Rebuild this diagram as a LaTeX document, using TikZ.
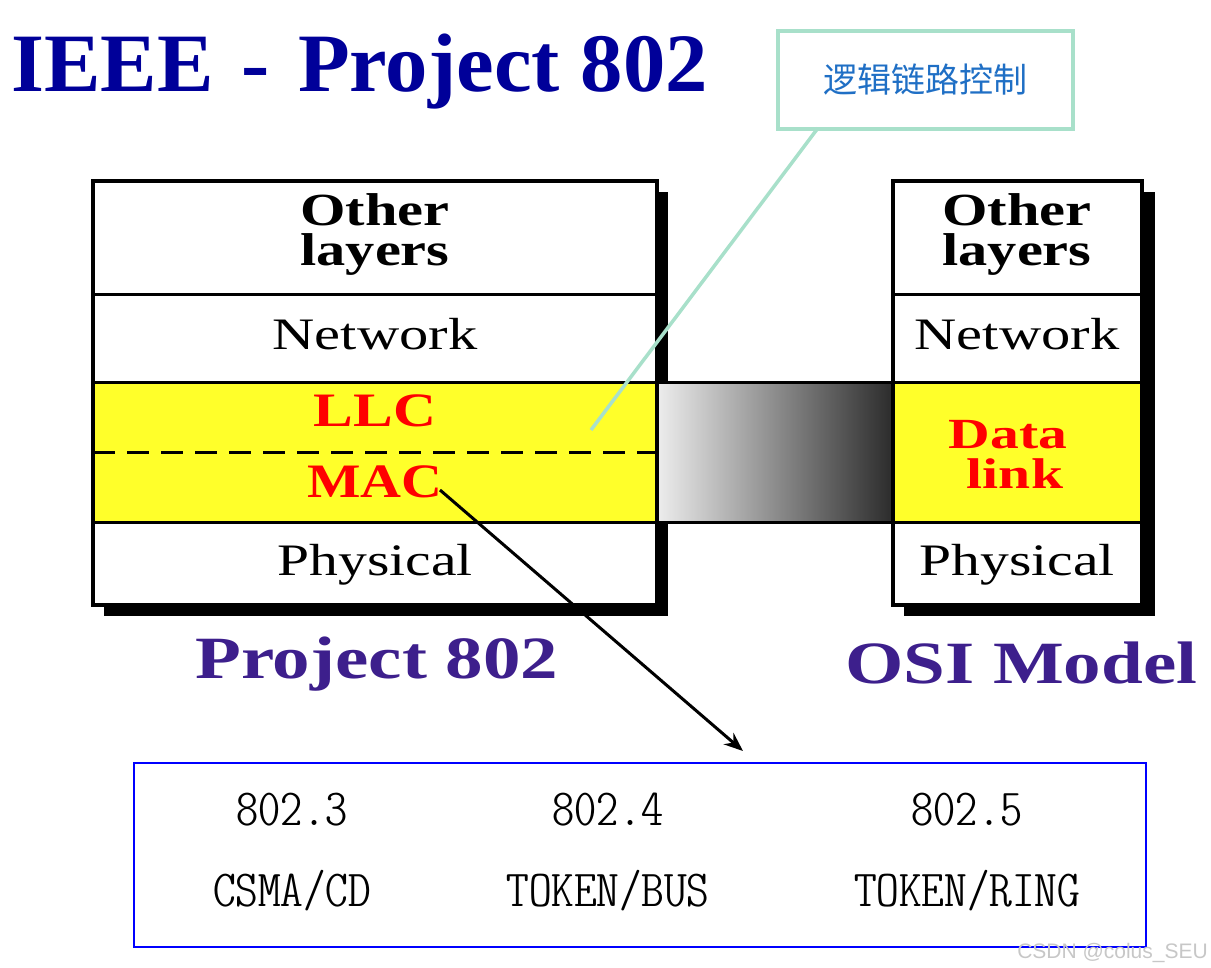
\documentclass[tikz,border=0pt]{standalone}
\usepackage{fontspec}
\usepackage{graphicx}
\setmainfont{Liberation Serif}
\newfontfamily\cjkfont{Noto Sans CJK SC}
\newfontfamily\wmfont{Liberation Sans}
\newfontfamily\narrowmono{lmmonoltcond10-regular.otf}
\usetikzlibrary{arrows.meta}
\definecolor{titleblue}{HTML}{000099}
\definecolor{labelpurple}{HTML}{3D1F8C}
\definecolor{layeryellow}{HTML}{FFFF2A}
\definecolor{calloutgreen}{HTML}{A8E0CA}
\definecolor{cjkblue}{HTML}{1F6FC5}
\definecolor{boxblue}{HTML}{0000FF}
\newcommand{\hstretch}[2][1.28]{\scalebox{#1}[1]{#2}}
\begin{document}
\begin{tikzpicture}[x=1pt,y=-1pt,
  cell/.style={draw=black, line width=3pt, inner sep=0pt, outer sep=0pt},
  yellowcell/.style={cell, fill=layeryellow},
  outerframe/.style={draw=black, line width=4.5pt},
  shadowbox/.style={fill=black},
  slidetext/.style={inner sep=0pt, anchor=base},
  upperline/.style={text height=32pt, text depth=0pt},
  lowerline/.style={text height=31pt, text depth=10pt},
  boldlayer/.style={slidetext, font=\bfseries\fontsize{46}{38}\selectfont},
  plainlayer/.style={slidetext, font=\fontsize{45}{45}\selectfont},
  redlayer/.style={slidetext, text=red, font=\bfseries\fontsize{48}{40}\selectfont},
  redsmall/.style={slidetext, text=red, font=\bfseries\fontsize{43}{40}\selectfont},
  biglabel/.style={inner sep=0pt, anchor=base west, text=labelpurple, font=\bfseries\fontsize{60}{60}\selectfont},
  stdtext/.style={inner sep=0pt, anchor=base, font=\narrowmono\fontsize{52}{52}\selectfont},
  callout/.style={draw=calloutgreen, line width=3.5pt, fill=white},
  calloutline/.style={draw=calloutgreen, line width=3.5pt},
  pointer/.style={draw=black, line width=3pt, -{Stealth[length=19pt, width=15pt]}}
]
\useasboundingbox (0,0) rectangle (1211,968);

% shadows
\fill[shadowbox] (104,192) rectangle (668,616);
\fill[shadowbox] (904,192) rectangle (1155,616);

% gradient bar between stacks
\node[cell, shade, left color=black!7, right color=black!83, minimum width=236pt, minimum height=139pt] (bar) at (775,452.5) {};

% left stack (Project 802)
\node[cell, fill=white, minimum width=564pt, minimum height=114pt] (lother) at (375,238) {};
\node[cell, fill=white, minimum width=564pt, minimum height=88pt] (lnet) at (375,339) {};
\node[yellowcell, minimum width=564pt, minimum height=139pt] (ldl) at (375,452.5) {};
\node[cell, fill=white, minimum width=564pt, minimum height=83pt] (lphys) at (375,563.5) {};
\draw[outerframe] (lother.north west) rectangle (lphys.south east);
\draw[black, line width=3.5pt, dash pattern=on 22pt off 12pt] (ldl.west) -- (ldl.east);

% right stack (OSI)
\node[cell, fill=white, minimum width=249pt, minimum height=114pt] (rother) at (1017.5,238) {};
\node[cell, fill=white, minimum width=249pt, minimum height=88pt] (rnet) at (1017.5,339) {};
\node[yellowcell, minimum width=249pt, minimum height=139pt] (rdl) at (1017.5,452.5) {};
\node[cell, fill=white, minimum width=249pt, minimum height=83pt] (rphys) at (1017.5,563.5) {};
\draw[outerframe] (rother.north west) rectangle (rphys.south east);

% left stack texts
\node[boldlayer, upperline] (lother1) at (375,226) {\hstretch[1.27]{Other}};
\node[boldlayer, lowerline] (lother2) at (375,266) {\hstretch[1.27]{layers}};
\node[plainlayer] (lnett) at (375,350) {\hstretch[1.3]{Network}};
\node[redlayer] (llct) at (375,427) {\hstretch[1.24]{LLC}};
\node[redlayer] (mact) at (375,497) {\hstretch[1.18]{MAC}};
\node[plainlayer] (lphyst) at (375,575) {\hstretch[1.28]{Physical}};

% right stack texts
\node[boldlayer, upperline] (rother1) at (1017,226) {\hstretch[1.27]{Other}};
\node[boldlayer, lowerline] (rother2) at (1017,266) {\hstretch[1.27]{layers}};
\node[plainlayer] (rnett) at (1017,350) {\hstretch[1.3]{Network}};
\node[redsmall, text height=29pt, text depth=0pt] (rdata) at (1008,448) {\hstretch[1.34]{Data}};
\node[redsmall, text height=29pt, text depth=2pt] (rlink) at (1015,488) {\hstretch[1.34]{link}};
\node[plainlayer] (rphyst) at (1017,575) {\hstretch[1.28]{Physical}};

% title and labels
\node[inner sep=0pt, anchor=base west, text=titleblue, font=\bfseries\fontsize{83}{83}\selectfont] (title) at (11,92) {\hstretch[1.02]{IEEE\,\,-\,\,Project 802}};
\node[biglabel] (p802) at (195,678) {\hstretch[1.25]{Project 802}};
\node[biglabel] (osi) at (845,683) {\hstretch[1.25]{OSI Model}};

% callout
\node[callout, minimum width=295pt, minimum height=98pt] (callbox) at (925.5,80) {};
\node[inner sep=0pt, text=cjkblue, font=\cjkfont\fontsize{34}{34}\selectfont] (callt) at (925,80) {逻辑链路控制};
\coordinate (callstart) at (818,128);
\coordinate (llcpt) at (591,430);
\draw[calloutline] (callstart) -- (llcpt);

% bottom standards box
\node[draw=boxblue, line width=2.5pt, minimum width=1012pt, minimum height=184pt] (stdbox) at (640,855) {};
\node[stdtext] (s3) at (292,825) {\hstretch[1.21]{802.3}};
\node[stdtext] (s4) at (608,825) {\hstretch[1.21]{802.4}};
\node[stdtext] (s5) at (967,825) {\hstretch[1.21]{802.5}};
\node[stdtext] (m3) at (292,906) {\hstretch[1.24]{CSMA/CD}};
\node[stdtext] (m4) at (608,906) {\hstretch[1.24]{TOKEN/BUS}};
\node[stdtext] (m5) at (967,906) {\hstretch[1.24]{TOKEN/RING}};

% pointer from MAC to box
\coordinate (macpt) at (440,490);
\coordinate (arrtip) at (743,751);
\draw[pointer] (macpt) -- (arrtip);

% watermark
\node[inner sep=0pt, anchor=base east, text=black!22, font=\wmfont\fontsize{21}{21}\selectfont] (wm) at (1208,958) {CSDN @colus\_SEU};
\end{tikzpicture}
\end{document}
